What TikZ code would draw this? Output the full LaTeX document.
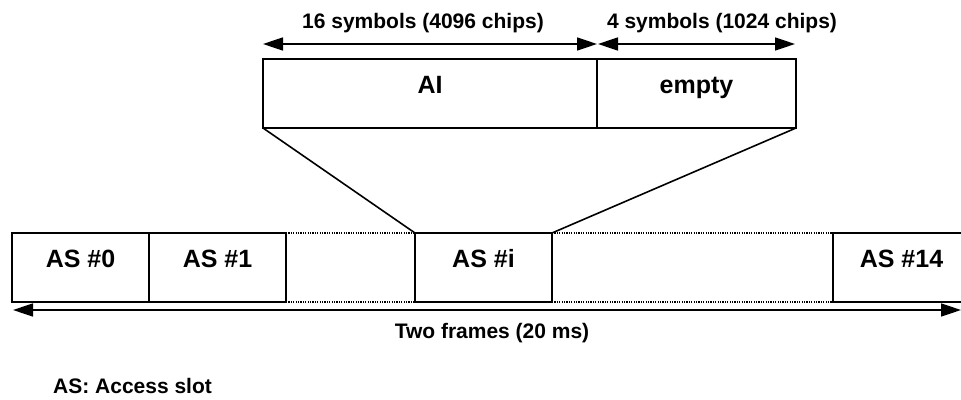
\documentclass[tikz,border=0pt]{standalone}
\usepackage{fontspec}
\setmainfont{Liberation Sans}
\usetikzlibrary{arrows.meta}
\begin{document}
\begin{tikzpicture}[x=1pt,y=-1pt,
  slot/.style={draw, line width=1.6pt, minimum height=69pt, inner sep=0pt, outer sep=0pt,
    font=\fontsize{25}{30}\selectfont\bfseries, text height=10pt, text depth=11pt},
  lbl/.style={anchor=base, inner sep=0pt, font=\fontsize{21}{25}\selectfont\bfseries},
  dimarrow/.style={line width=1.6pt, {Triangle[length=20pt,width=13pt]}-{Triangle[length=20pt,width=13pt]}},
  gap/.style={line width=1.2pt, dash pattern=on 1.2pt off 1.2pt},
  link/.style={line width=1.6pt}]
\useasboundingbox (0,0) rectangle (961,399);
% bottom row of access slots
\node[slot, minimum width=137pt] (as0) at (80.5,267.5) {AS \#0};
\node[slot, minimum width=137pt] (as1) at (217.5,267.5) {AS \#1};
\node[slot, minimum width=137pt] (asi) at (483.5,267.5) {AS \#i};
\node[slot, minimum width=137pt] (as14) at (901.5,267.5) {AS \#14};
% dotted gaps
\draw[gap] (as1.north east) -- (asi.north west);
\draw[gap] (as1.south east) -- (asi.south west);
\draw[gap] (asi.north east) -- (as14.north west);
\draw[gap] (asi.south east) -- (as14.south west);
% top expanded slot
\node[slot, minimum width=334pt] (ai) at (430,93.5) {AI};
\node[slot, minimum width=199pt] (empty) at (696.5,93.5) {empty};
% zoom lines
\draw[link] (ai.south west) -- (asi.north west);
\draw[link] (empty.south east) -- (asi.north east);
% dimension arrows
\coordinate (a1) at (263,44);
\coordinate (a2) at (597,44);
\coordinate (b1) at (598,44);
\coordinate (b2) at (795,44);
\draw[dimarrow] (a1) -- (a2);
\draw[dimarrow] (b1) -- (b2);
\node[lbl] (l16) at (423,28) {16 symbols (4096 chips)};
\node[lbl] (l4) at (722,28) {4 symbols (1024 chips)};
% frame arrow
\coordinate (f1) at (13,310);
\coordinate (f2) at (961,310);
\draw[dimarrow] (f1) -- (f2);
\node[lbl] (tf) at (492,338) {Two frames (20 ms)};
% legend
\node[lbl, anchor=base west] (leg) at (53,393) {AS: Access slot};
\end{tikzpicture}
\end{document}
